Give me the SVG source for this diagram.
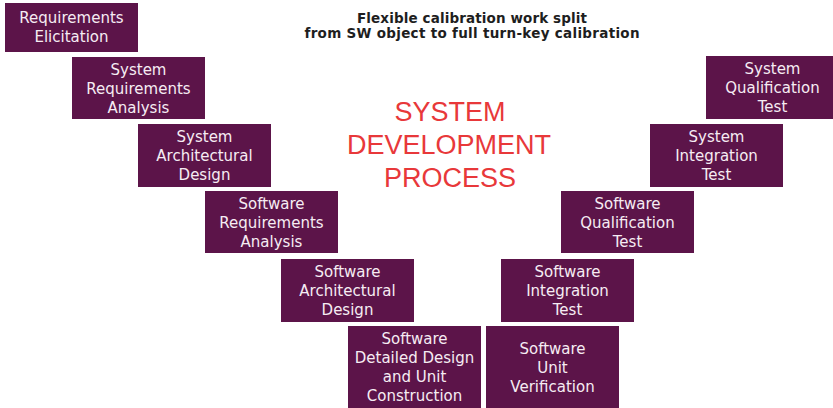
<svg xmlns="http://www.w3.org/2000/svg" width="833" height="408" viewBox="0 0 833 408">
<style>
.box{fill:#5c1449}
.t{font-family:"DejaVu Sans","Liberation Sans",sans-serif;font-size:15px;fill:#f6ecf3;text-anchor:middle}
.head{font-family:"DejaVu Sans","Liberation Sans",sans-serif;font-size:13.5px;font-weight:bold;fill:#1e1e1e;text-anchor:middle}
.title{font-family:"Liberation Sans",Arial,sans-serif;font-size:27px;fill:#e8383a;text-anchor:middle}
</style>
<rect width="833" height="408" fill="#ffffff"/>
<g id="heading">
<text class="head" x="472" y="22.5" textLength="230" lengthAdjust="spacing">Flexible calibration work split</text>
<text class="head" x="472" y="37.5" textLength="335" lengthAdjust="spacing">from SW object to full turn-key calibration</text>
</g>
<g id="title">
<text class="title" x="450" y="121">SYSTEM</text>
<text class="title" x="449" y="154">DEVELOPMENT</text>
<text class="title" x="450" y="187">PROCESS</text>
</g>
<g id="connectors"></g>
<g id="n1"><rect class="box" x="5" y="3" width="133" height="49"/>
<text class="t" x="71.5" y="23">Requirements</text><text class="t" x="71.5" y="42">Elicitation</text></g>
<g id="n2"><rect class="box" x="72" y="57" width="133" height="62"/>
<text class="t" x="138.5" y="74.5">System</text><text class="t" x="138.5" y="93.5">Requirements</text><text class="t" x="138.5" y="112.5">Analysis</text></g>
<g id="n3"><rect class="box" x="138" y="124" width="133" height="63"/>
<text class="t" x="204.5" y="142">System</text><text class="t" x="204.5" y="161">Architectural</text><text class="t" x="204.5" y="180">Design</text></g>
<g id="n4"><rect class="box" x="205" y="191" width="133" height="62"/>
<text class="t" x="271.5" y="208.5">Software</text><text class="t" x="271.5" y="227.5">Requirements</text><text class="t" x="271.5" y="246.5">Analysis</text></g>
<g id="n5"><rect class="box" x="281" y="259" width="133" height="63"/>
<text class="t" x="347.5" y="277">Software</text><text class="t" x="347.5" y="296">Architectural</text><text class="t" x="347.5" y="315">Design</text></g>
<g id="n6"><rect class="box" x="348" y="326" width="133" height="82"/>
<text class="t" x="414.5" y="344">Software</text><text class="t" x="414.5" y="363">Detailed Design</text><text class="t" x="414.5" y="382">and Unit</text><text class="t" x="414.5" y="401">Construction</text></g>
<g id="n7"><rect class="box" x="486" y="326" width="133" height="82"/>
<text class="t" x="552.5" y="353.5">Software</text><text class="t" x="552.5" y="372.5">Unit</text><text class="t" x="552.5" y="391.5">Verification</text></g>
<g id="n8"><rect class="box" x="501" y="259" width="133" height="63"/>
<text class="t" x="567.5" y="277">Software</text><text class="t" x="567.5" y="296">Integration</text><text class="t" x="567.5" y="315">Test</text></g>
<g id="n9"><rect class="box" x="561" y="191" width="133" height="62"/>
<text class="t" x="627.5" y="208.5">Software</text><text class="t" x="627.5" y="227.5">Qualification</text><text class="t" x="627.5" y="246.5">Test</text></g>
<g id="n10"><rect class="box" x="650" y="124" width="133" height="63"/>
<text class="t" x="716.5" y="142">System</text><text class="t" x="716.5" y="161">Integration</text><text class="t" x="716.5" y="180">Test</text></g>
<g id="n11"><rect class="box" x="706" y="56" width="133" height="63"/>
<text class="t" x="772.5" y="74">System</text><text class="t" x="772.5" y="93">Qualification</text><text class="t" x="772.5" y="112">Test</text></g>
</svg>
